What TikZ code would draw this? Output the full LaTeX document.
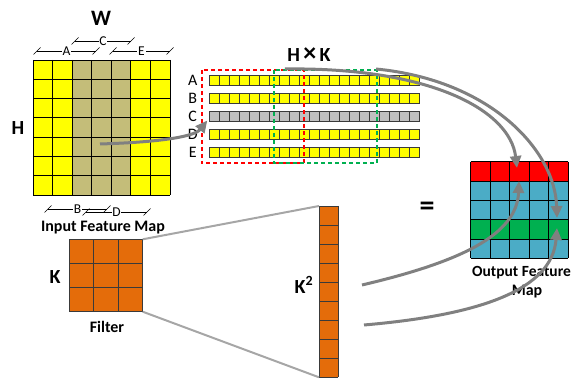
\documentclass[tikz,border=0pt]{standalone}
\usepackage{fontspec}
\setmainfont{Carlito}
\usetikzlibrary{arrows.meta}
\definecolor{cyel}{HTML}{FFFF00}
\definecolor{ckhaki}{HTML}{C4BD79}
\definecolor{cgrayrow}{HTML}{C0C0C0}
\definecolor{corange}{HTML}{E46C0A}
\definecolor{cred}{HTML}{FF0000}
\definecolor{cblue}{HTML}{4BACC6}
\definecolor{cgreen}{HTML}{00B050}
\definecolor{carrow}{HTML}{808080}
\definecolor{clink}{HTML}{A6A6A6}
\definecolor{cedge}{HTML}{3A3A3A}

% a measured span with slanted end ticks and a centred letter
\newcommand\dimspan[4]{%
  \draw[spanline] (#1,#3) -- (#2,#3);
  \draw[spanline] ({#1-3.5},{#3+3.5}) -- ({#1+3.5},{#3-3.5});
  \draw[spanline] ({#2-3.5},{#3+3.5}) -- ({#2+3.5},{#3-3.5});
  \node[spanlbl] at ({(#1+#2)/2},#3) {#4};
}

\begin{document}
\begin{tikzpicture}[x=1pt,y=-1pt,
  box/.style={inner sep=0pt, outer sep=0pt, draw=none, anchor=north west},
  gridline/.style={draw=black, line width=0.8pt},
  rowcell/.style={draw=cedge, line width=0.7pt},
  spanline/.style={draw=black, line width=0.7pt},
  spanlbl/.style={fill=white, inner sep=0.8pt, font=\fontsize{13.5}{13.5}\selectfont},
  title/.style={font=\bfseries\fontsize{16}{17}\selectfont, inner sep=0pt},
  big/.style={font=\bfseries\fontsize{20}{20}\selectfont, inner sep=0pt},
  rowlbl/.style={font=\fontsize{16}{16}\selectfont, inner sep=0pt},
  window/.style={line width=2pt, dash pattern=on 4pt off 3pt},
  flow/.style={draw=carrow, line width=3pt, -{Triangle[length=12pt,width=11pt]}},
  link/.style={draw=clink, line width=2pt}]

\useasboundingbox (0,0) rectangle (576,379);
\clip (0,0) rectangle (576,379);

% ---------- input feature map ----------
\node[box, minimum width=137pt, minimum height=135pt] (ifm) at (33,60) {};
\fill[cyel] (33,60) rectangle (170,195);
\fill[ckhaki] (72.14,60) rectangle (130.86,195);
\foreach \i in {0,...,7} {
  \draw[gridline] ({33+\i*19.571},60) -- ++(0,135);
  \draw[gridline] (33,{60+\i*19.286}) -- ++(137,0);
}
\node[big, font=\bfseries\fontsize{22}{22}\selectfont] (w) at (101,18) {W};
\node[big] (h) at (18,128) {H};
\node[title] (ifmlbl) at (103,228) {Input Feature Map};

\dimspan{37}{96}{51}{A}
\dimspan{75}{131}{41}{C}
\dimspan{113}{170}{51}{E}
\dimspan{48}{107}{209}{B}
\dimspan{86}{147}{212}{D}

% ---------- unrolled rows ----------
\foreach \lab/\col [count=\n from 0] in {A/cyel,B/cyel,C/cgrayrow,D/cyel,E/cyel} {
  \pgfmathsetmacro\ry{75.7+\n*17.9}
  \node[box, minimum width=210pt, minimum height=10pt] (row\lab) at (209.3,\ry) {};
  \fill[\col] (209.3,\ry) rectangle ++(210,10);
  \foreach \k in {0,...,20}
    \draw[rowcell] ({209.3+\k*10},\ry) rectangle ++(10,10);
  \node[rowlbl] (l\lab) at (192.7,{\ry+5}) {\lab};
}
\draw[window, cred] (201.7,70) rectangle (304,163.3);
\draw[window, cgreen] (274.3,70) rectangle (376.5,163.3);
\node[big] (hk) at (309,55) {H\,{\fontsize{26}{26}\selectfont ×}\,K};

% ---------- filter and its unrolled column ----------
\node[box, minimum width=73.7pt, minimum height=72.4pt] (filter) at (69,239.3) {};
\fill[corange] (69,239.3) rectangle (142.7,311.7);
\foreach \i in {0,...,3} {
  \draw[rowcell] ({69+\i*24.567},239.3) -- ++(0,72.4);
  \draw[rowcell] (69,{239.3+\i*24.133}) -- ++(73.7,0);
}
\node[big] (k) at (55,277) {K};
\node[title] (filterlbl) at (107,327) {Filter};

\node[box, minimum width=19.3pt, minimum height=171.3pt] (kcol) at (319,206) {};
\fill[corange] (319,206) rectangle (338.3,377.3);
\foreach \i in {0,...,9}
  \draw[rowcell] (319,{206+\i*19.033}) -- ++(19.3,0);
\draw[rowcell] (319,206) -- (319,377.3) (338.3,206) -- (338.3,377.3);
\node[big] (k2) at (304,285) {K\textsuperscript{2}};

\draw[link] (filter.north east) -- (kcol.north west);
\draw[link] (filter.south east) -- (kcol.south west);

% ---------- output feature map ----------
\node[box, minimum width=97.6pt, minimum height=96.6pt] (ofm) at (470.7,161.7) {};
\foreach \col [count=\n from 0] in {cred,cblue,cblue,cgreen,cblue}
  \fill[\col] (470.7,{161.7+\n*19.32}) rectangle ++(97.6,19.32);
\foreach \i in {0,...,5} {
  \draw[gridline] ({470.7+\i*19.52},161.7) -- ++(0,96.6);
  \draw[gridline] (470.7,{161.7+\i*19.32}) -- ++(97.6,0);
}
\node[title, font=\bfseries\fontsize{15.5}{16}\selectfont] (ofmlbl1) at (521.5,273) {Output Feature};
\node[title] (ofmlbl2) at (527,292) {Map};
\node[font=\bfseries\fontsize{30}{30}\selectfont, inner sep=0pt] (eq) at (427,209) {=};

% ---------- data flow arrows ----------
\coordinate (src) at (100,144);
\coordinate (tipC) at ([xshift=-2pt,yshift=-4pt]rowC.west);
\coordinate (topA) at (285,69);
\coordinate (topB) at (376,69);
\coordinate (botA) at (362,285);
\coordinate (botB) at (364,325);
\coordinate (outA) at (517,168);
\coordinate (outB) at (557,218);
\coordinate (outC) at (519,181);
\coordinate (outD) at (557,228);

\draw[flow] (src) .. controls (165,142) and (195,136) .. (tipC);
\draw[flow] (topA) .. controls (430,67) and (510,110) .. (outA);
\draw[flow] (topB) .. controls (490,80) and (555,150) .. (outB);
\draw[flow] (botA) .. controls (460,262) and (517,235) .. (outC);
\draw[flow] (botB) .. controls (480,315) and (552,290) .. (outD);
\end{tikzpicture}
\end{document}
